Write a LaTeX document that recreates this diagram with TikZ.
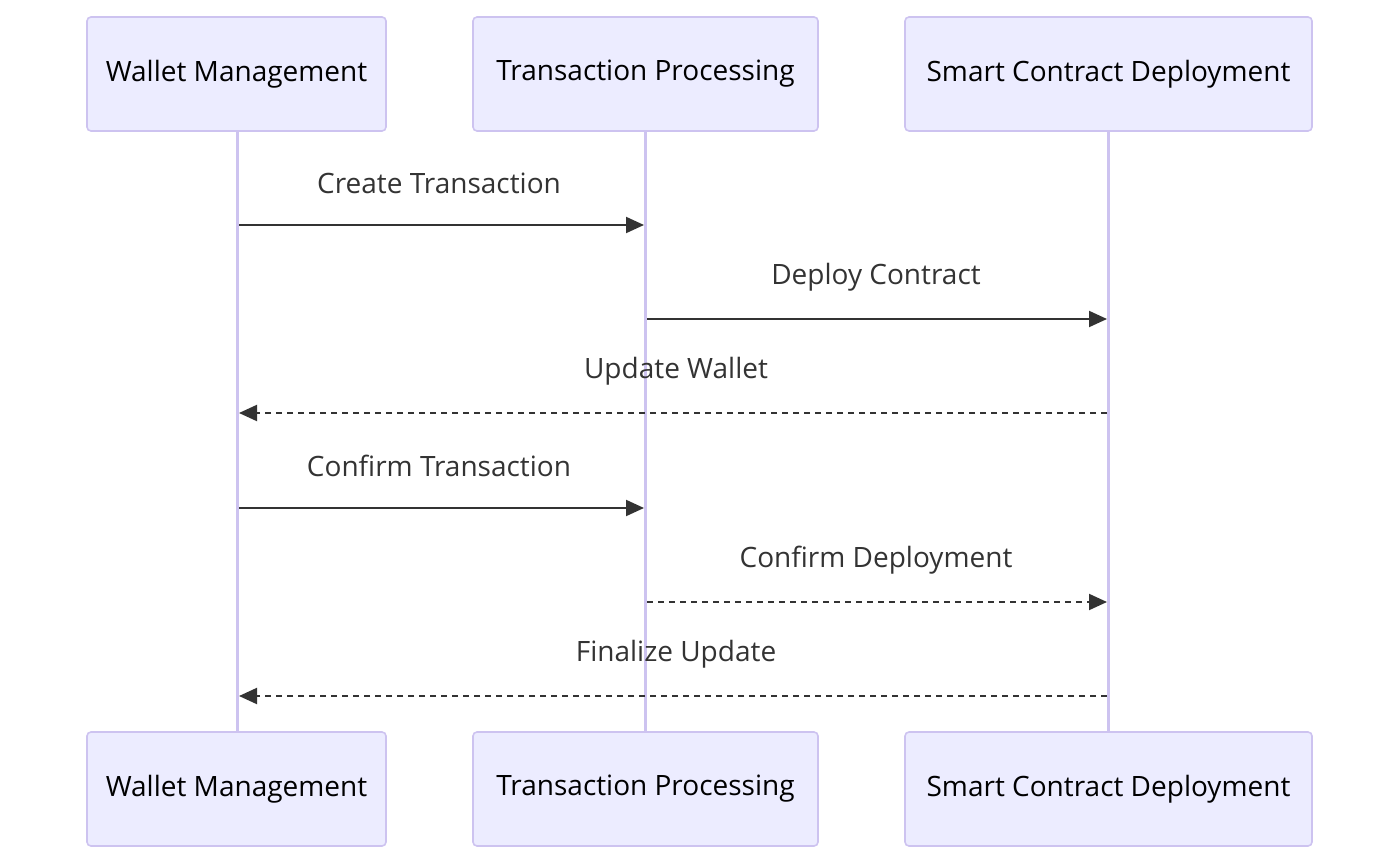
\documentclass[tikz,border=0pt]{standalone}
\usepackage{fontspec}
\setmainfont{Open Sans}
\usetikzlibrary{arrows.meta}
\definecolor{actfill}{HTML}{ECECFF}
\definecolor{actline}{HTML}{CDC3F0}
\definecolor{msgtext}{HTML}{333333}
\tikzset{
  actor/.style={draw=actline,fill=actfill,rounded corners=2pt,line width=0.8pt,font=\fontsize{14}{16}\selectfont,text=black},
  life/.style={draw=actline,line width=1.5pt},
  msg/.style={line width=1pt,draw=msgtext,-{Triangle[length=9pt,width=8pt]}},
  reply/.style={msg,dash pattern=on 3pt off 2.5pt},
  lbl/.style={font=\fontsize{14}{16}\selectfont,text=msgtext}
}
\begin{document}
\begin{tikzpicture}[x=0.5pt,y=-0.5pt]
\useasboundingbox (0,0) rectangle (1400,865);
% lifelines
\foreach \xx in {237,645,1108} \draw[life] (\xx,131) -- (\xx,732);
% actors
\foreach \name/\xa/\xb/\txt in {wm/87/386/Wallet Management,tp/473/818/Transaction Processing,sc/905/1312/Smart Contract Deployment}{
  \draw[actor] (\xa,17) rectangle (\xb,131);
  \node[actor,draw=none,fill=none] (\name top) at ({(\xa+\xb)/2},74) {\txt};
  \draw[actor] (\xa,732) rectangle (\xb,846);
  \node[actor,draw=none,fill=none] (\name bot) at ({(\xa+\xb)/2},789) {\txt};
}
% messages
\coordinate (m1a) at (239,225); \coordinate (m1b) at (644,225);
\coordinate (m2a) at (647,319); \coordinate (m2b) at (1107,319);
\coordinate (m3a) at (1107,413); \coordinate (m3b) at (239,413);
\coordinate (m4a) at (239,508); \coordinate (m4b) at (644,508);
\coordinate (m5a) at (647,602); \coordinate (m5b) at (1107,602);
\coordinate (m6a) at (1107,696); \coordinate (m6b) at (239,696);
\draw[msg] (m1a) -- (m1b);
\node[lbl] (l1) at (439,183) {Create Transaction};
\draw[msg] (m2a) -- (m2b);
\node[lbl] (l2) at (876,277) {Deploy Contract};
\draw[reply] (m3a) -- (m3b);
\node[lbl] (l3) at (676,371) {Update Wallet};
\draw[msg] (m4a) -- (m4b);
\node[lbl] (l4) at (439,466) {Confirm Transaction};
\draw[reply] (m5a) -- (m5b);
\node[lbl] (l5) at (876,560) {Confirm Deployment};
\draw[reply] (m6a) -- (m6b);
\node[lbl] (l6) at (676,654) {Finalize Update};
\end{tikzpicture}
\end{document}
